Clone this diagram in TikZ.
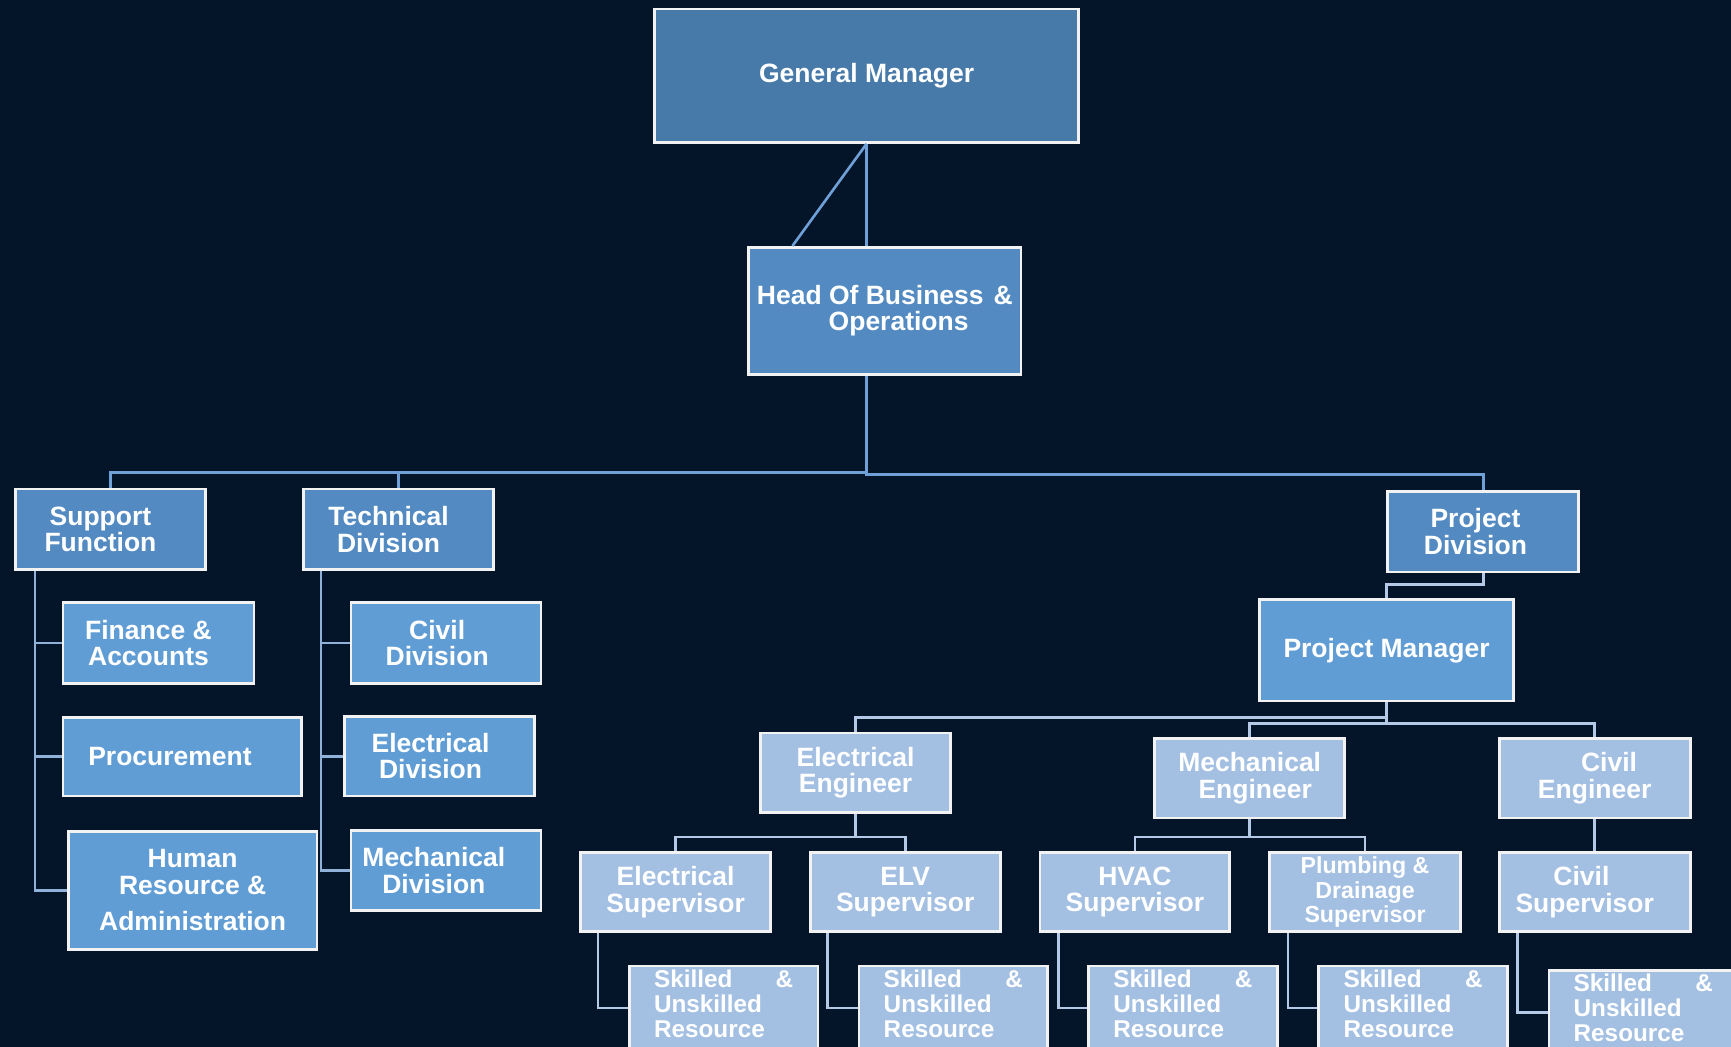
\documentclass[tikz,border=0pt]{standalone}
\usepackage{fontspec}
\setmainfont{Liberation Sans}
\usepackage{xcolor}
\usepackage{tikz}

\definecolor{bgc}{HTML}{041429}
\definecolor{edgec}{HTML}{F2F2F2}
\definecolor{gmc}{HTML}{477AA9}
\definecolor{deptc}{HTML}{528AC1}
\definecolor{unitc}{HTML}{619DD5}
\definecolor{engc}{HTML}{A3BFE2}
\definecolor{linkc}{HTML}{6FA0D8}
\definecolor{sublinkc}{HTML}{8FB1DA}
\definecolor{lowlinkc}{HTML}{B3C9E6}

\begin{document}
\begin{tikzpicture}[x=1pt, y=-1pt,
		orgbox/.style={rectangle, draw=edgec, line width=2.4pt, text=white, align=center,
			inner sep=0pt, font=\fontsize{24}{24}\selectfont\bfseries},
		sz/.style 2 args={minimum width=#1, minimum height=#2},
		gmbox/.style={orgbox, fill=gmc},
		deptbox/.style={orgbox, fill=deptc, sz={172}{73}},
		unitbox/.style={orgbox, fill=unitc},
		engbox/.style={orgbox, fill=engc, sz={172}{72}},
		crewbox/.style={engbox, sz={171}{76}, text width=126pt, align=left, text depth=53pt,
			font=\fontsize{22}{22.5}\selectfont\bfseries},
		link/.style={draw=linkc, line width=2.4pt},
		sublink/.style={link, draw=sublinkc},
		lowlink/.style={link, draw=lowlinkc}]
		\fill[bgc] (0,0) rectangle (1568,948);
		\useasboundingbox (0,0) rectangle (1568,948);
		
		\node[gmbox, sz={384}{121}] (gm) at (785,68.5) {General Manager};
		\node[orgbox, fill=deptc, sz={247}{115}] (hob) at (801.5,281.5) {Head Of Business\hspace{9pt}\&\\\hspace*{25pt}Operations};
		
		\node[deptbox] (sup) at (100,479.5) {Support\hspace*{18pt}\\Function\hspace*{18pt}};
		\node[deptbox] (tech) at (361,479.5) {Technical\hspace*{18pt}\\Division\hspace*{18pt}};
		\node[deptbox, minimum width=173] (proj) at (1343.5,481.5) {Project\hspace*{14pt}\\Division\hspace*{14pt}};
		
		\node[unitbox, sz={173}{73}] (fin) at (143.5,582.5) {Finance \&\hspace*{18pt}\\Accounts\hspace*{18pt}};
		\node[unitbox, sz={216}{71}] (proc) at (165,685.5) {Procurement\hspace*{22pt}};
		\node[unitbox, sz={225}{107}] (hr) at (174.5,806.5) {Human\\Resource \&\\[9pt]Administration};
		\node[unitbox, sz={172}{73}] (civdiv) at (404,582.5) {Civil\hspace*{16pt}\\Division\hspace*{16pt}};
		\node[unitbox, sz={172}{72}] (eldiv) at (398,685) {Electrical\hspace*{16pt}\\Division\hspace*{16pt}};
		\node[unitbox, sz={172}{73}] (mechdiv) at (404,788.5) {Mechanical\hspace*{22pt}\\Division\hspace*{22pt}};
		\node[unitbox, sz={230}{92}] (pm) at (1256,589) {Project Manager};
		
		\node[engbox] (ee) at (775,700) {Electrical\\Engineer};
		\node[engbox] (me) at (1132,705) {Mechanical\\\hspace*{10pt}Engineer};
		\node[engbox, minimum width=173] (ce) at (1444.5,705) {\hspace*{26pt}Civil\\Engineer};
		\node[engbox] (es) at (612,808) {Electrical\\Supervisor};
		\node[engbox] (elv) at (820,808) {ELV\\Supervisor};
		\node[engbox] (hvac) at (1028,808) {HVAC\\Supervisor};
		\node[engbox, minimum width=173, font=\fontsize{21}{22}\selectfont\bfseries] (pds) at (1236.5,808) {Plumbing \&\\Drainage\\Supervisor};
		\node[engbox, minimum width=173] (cs) at (1444.5,808) {Civil\hspace*{24pt}\\Supervisor\hspace*{18pt}};
		
		\node[crewbox] (res1) at (655.5,913) {\makebox[126pt][l]{Skilled\hfill\&}\\Unskilled\\Resource};
		\node[crewbox] (res2) at (863.5,913) {\makebox[126pt][l]{Skilled\hfill\&}\\Unskilled\\Resource};
		\node[crewbox] (res3) at (1071.5,913) {\makebox[126pt][l]{Skilled\hfill\&}\\Unskilled\\Resource};
		\node[crewbox] (res4) at (1280,913) {\makebox[126pt][l]{Skilled\hfill\&}\\Unskilled\\Resource};
		\node[crewbox] (res5) at (1488.5,917) {\makebox[126pt][l]{Skilled\hfill\&}\\Unskilled\\Resource};
		
		% top of the chart
		\coordinate (bus) at (785,428);
		\draw[link] (gm.south) -- (gm.south |- hob.north);
		\draw[link] (gm.south) -- ([xshift=41pt]hob.north west);
		\draw[link] (gm.south |- hob.south) -- (bus) -| (sup.north);
		\draw[link] (bus) -| (tech.north);
		\draw[link] (bus) -- ++(0,2) -| (proj.north);
		
		% support and technical
		\draw[sublink] ([xshift=19pt]sup.south west) |- (fin.west);
		\draw[sublink] ([xshift=19pt]sup.south west) |- (proc.west);
		\draw[sublink] ([xshift=19pt]sup.south west) |- (hr.west);
		\draw[sublink] ([xshift=17pt]tech.south west) |- (civdiv.west);
		\draw[sublink] ([xshift=17pt]tech.south west) |- (eldiv.west);
		\draw[sublink] ([xshift=17pt]tech.south west) |- (mechdiv.west);
		
		% project side
		\draw[lowlink] (proj.south) -- ++(0,10) -| (pm.north);
		\draw[lowlink] (pm.south) -- ++(0,14) -| (ee.north);
		\draw[lowlink] (pm.south) -- ++(0,19) -| (me.north);
		\draw[lowlink] (pm.south) -- ++(0,19) -| (ce.north);
		\draw[lowlink] (ee.south) -- ++(0,21) -| (es.north);
		\draw[lowlink] (ee.south) -- ++(0,21) -| (elv.north);
		\draw[lowlink] (me.south) -- ++(0,16) -| (hvac.north);
		\draw[lowlink] (me.south) -- ++(0,16) -| (pds.north);
		\draw[lowlink] (ce) -- (cs);
		\draw[lowlink] ([xshift=17pt]es.south west) |- (res1.west);
		\draw[lowlink] ([xshift=17pt]elv.south west) |- (res2.west);
		\draw[lowlink] ([xshift=18pt]hvac.south west) |- (res3.west);
		\draw[lowlink] ([xshift=18pt]pds.south west) |- (res4.west);
		\draw[lowlink] ([xshift=18pt]cs.south west) |- (res5.west);
	\end{tikzpicture}
\end{document}
